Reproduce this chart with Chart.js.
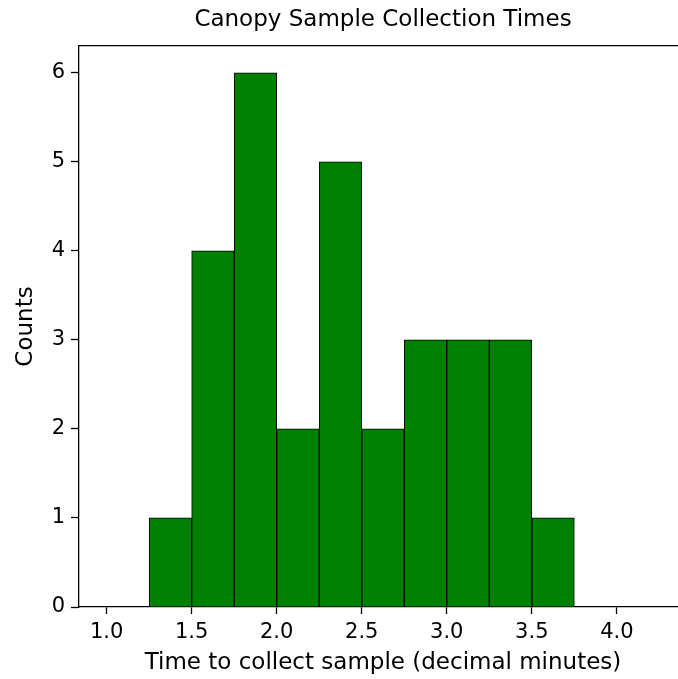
<!DOCTYPE html>
<html>
<head>
<meta charset="utf-8">
<script src="https://cdn.jsdelivr.net/npm/chart.js@4/dist/chart.umd.min.js"></script>
<style>
    html, body { margin: 0; padding: 0; background: #fff; overflow: hidden; }
    #wrap { position: relative; width: 690px; height: 679px; }
</style>
</head>
<body>
<div id="wrap"><canvas id="histChart"></canvas></div>
<script>
// Гістограма: межі інтервалів і кількості
const binLeft = [1.25, 1.5, 1.75, 2.0, 2.25, 2.5, 2.75, 3.0, 3.25, 3.5];
const binRight = [1.5, 1.75, 2.0, 2.25, 2.5, 2.75, 3.0, 3.25, 3.5, 3.75];
const counts = [1, 4, 6, 2, 5, 2, 3, 3, 3, 1];
const xTicks = [1.0, 1.5, 2.0, 2.5, 3.0, 3.5, 4.0];
const yTicks = [0, 1, 2, 3, 4, 5, 6];

const font = 'DejaVu Sans';

const points = counts.map((c, i) => ({ x: (binLeft[i] + binRight[i]) / 2, y: c }));

const ctx = document.getElementById('histChart').getContext('2d');
new Chart(ctx, {
    type: 'bar',
    data: {
        datasets: [{
            data: points,
            backgroundColor: '#008000',
            borderColor: '#000',
            borderWidth: 1,
            barPercentage: 1,
            categoryPercentage: 1
        }]
    },
    options: {
        responsive: true,
        maintainAspectRatio: false,
        animation: false,
        layout: { padding: { left: 0, right: 3, top: 0, bottom: 0 } },
        plugins: {
            legend: { display: false },
            tooltip: { enabled: false }
        },
        scales: {
            // верхня вісь: лише рамка і заголовок, центрований над областю графіка
            top: {
                type: 'linear',
                position: 'top',
                display: true,
                offset: false,
                min: 0.8375,
                max: 4.4125,
                afterFit: (scale) => { scale.height = 46; },
                grid: { drawOnChartArea: false, drawTicks: false },
                border: { display: true, color: '#000', width: 1.3 },
                ticks: { display: false },
                title: {
                    display: true,
                    text: 'Canopy Sample Collection Times',
                    color: '#000',
                    font: { family: font, size: 23 },
                    padding: { top: 6, bottom: 0 }
                }
            },
            x: {
                type: 'linear',
                position: 'bottom',
                offset: false,
                min: 0.8375,
                max: 4.4125,
                afterBuildTicks: (scale) => { scale.ticks = xTicks.map(v => ({ value: v })); },
                afterFit: (scale) => { scale.height = 72; },
                grid: { drawOnChartArea: false, drawTicks: true, tickLength: 7, color: '#000', tickWidth: 1.3, offset: false },
                border: { display: true, color: '#000', width: 1.3 },
                ticks: {
                    color: '#000',
                    padding: 6,
                    maxRotation: 0,
                    font: { family: font, size: 21 },
                    callback: (v) => Number(v).toFixed(1)
                },
                title: {
                    display: true,
                    text: 'Time to collect sample (decimal minutes)',
                    color: '#000',
                    font: { family: font, size: 23 },
                    padding: { top: 0, bottom: 2 }
                }
            },
            y: {
                min: 0,
                max: 6.3,
                afterBuildTicks: (scale) => { scale.ticks = yTicks.map(v => ({ value: v })); },
                afterFit: (scale) => { scale.width = 79; },
                grid: { drawOnChartArea: false, drawTicks: true, tickLength: 8, color: '#000', tickWidth: 1.3 },
                border: { display: true, color: '#000', width: 1.3 },
                ticks: {
                    color: '#000',
                    padding: 6,
                    font: { family: font, size: 21 }
                },
                title: {
                    display: true,
                    text: 'Counts',
                    color: '#000',
                    font: { family: font, size: 23 },
                    padding: { top: 12, bottom: 0 }
                }
            }
        }
    }
});
</script>
</body>
</html>
